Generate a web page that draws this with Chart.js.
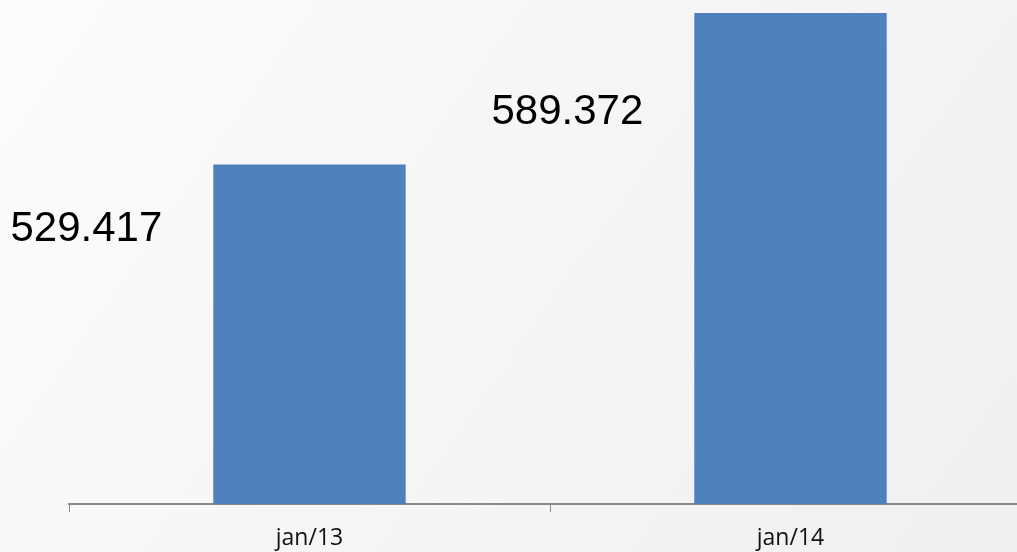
<!DOCTYPE html>
<html>
<head>
<meta charset="utf-8">
<script src="https://cdn.jsdelivr.net/npm/chart.js@4"></script>
<style>
  html, body {
    margin: 0;
    padding: 0;
    width: 1017px;
    height: 552px;
    overflow: hidden;
    background: linear-gradient(125deg, #fcfcfc 0%, #f6f6f6 45%, #f0f0f0 100%);
  }
  #chart { display: block; }
</style>
</head>
<body>
<canvas id="chart" width="1040" height="552"></canvas>
<script>
(function () {
  "use strict";

  // ── Data ─────────────────────────────────────────────────────────
  const categories = ["jan/13", "jan/14"];
  const values = [529417, 589372];

  const BAR_COLOR = "#4f81bd";
  const AXIS_COLOR = "#8a8a8a";

  // 529417 -> "529.417"
  function fmt(v) {
    return String(v).replace(/\B(?=(\d{3})+(?!\d))/g, ".");
  }

  // value labels sit to the left of each bar, a bit below its top
  const sideLabels = {
    id: "sideLabels",
    afterDatasetsDraw: function (chart) {
      var ctx = chart.ctx;
      var meta = chart.getDatasetMeta(0);
      var bottom = chart.chartArea.bottom;
      ctx.save();
      ctx.font = "42px 'Liberation Sans', Arial, sans-serif";
      ctx.fillStyle = "#000";
      ctx.textAlign = "right";
      ctx.textBaseline = "alphabetic";
      meta.data.forEach(function (bar, i) {
        var x = bar.x - bar.width / 2 - 51;
        var y = bar.y + 0.226 * (bottom - bar.y);
        ctx.fillText(fmt(values[i]), x, y);
      });
      ctx.restore();
    },
  };

  new Chart(document.getElementById("chart"), {
    type: "bar",
    data: {
      labels: categories,
      datasets: [
        {
          data: values,
          backgroundColor: BAR_COLOR,
          borderWidth: 0,
          categoryPercentage: 0.8,
          barPercentage: 0.5,
        },
      ],
    },
    options: {
      responsive: false,
      animation: false,
      devicePixelRatio: 1,
      layout: { padding: { left: 69, right: 9, top: 0, bottom: 0 } },
      plugins: {
        legend: { display: false },
        tooltip: { enabled: false },
      },
      scales: {
        x: {
          grid: {
            drawOnChartArea: false,
            drawTicks: true,
            tickLength: 8,
            color: AXIS_COLOR,
            lineWidth: 1,
          },
          border: { color: AXIS_COLOR, width: 2 },
          ticks: {
            color: "#111",
            padding: 13,
            font: { family: "'Open Sans', sans-serif", size: 23 },
          },
          afterFit: function (scale) { scale.height = 48; },
        },
        y: {
          display: false,
          min: 395000,
          max: 594500,
        },
      },
    },
    plugins: [sideLabels],
  });
})();
</script>
</body>
</html>
